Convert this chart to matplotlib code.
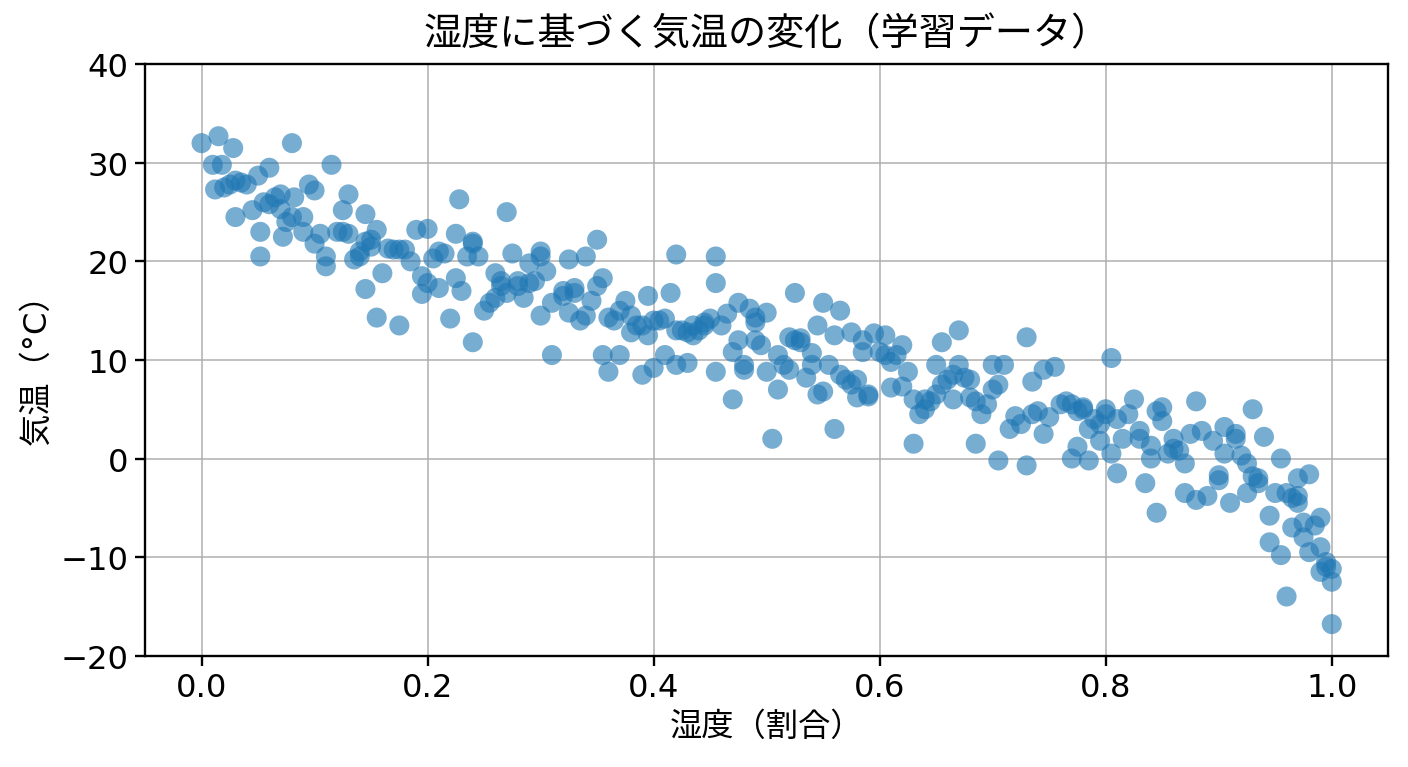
import numpy as np
import matplotlib
matplotlib.use("Agg")
import matplotlib.pyplot as plt

# digits in DejaVu, Japanese falls through to Noto CJK
plt.rcParams['font.family'] = ['DejaVu Sans', 'Noto Sans CJK JP']

# ------------------------------------------------
# DATA
# ------------------------------------------------
humidity = [
    0.000, 0.015, 0.010, 0.018, 0.012, 0.025, 0.030, 0.028, 0.020, 0.035,
    0.040, 0.030, 0.045, 0.050, 0.055, 0.060, 0.052, 0.052, 0.060, 0.065,
    0.070, 0.070, 0.072, 0.075, 0.080, 0.082, 0.080, 0.090, 0.090, 0.095,
    0.100, 0.100, 0.105, 0.110, 0.110, 0.115, 0.120, 0.125, 0.125, 0.130,
    0.130, 0.135, 0.140, 0.140, 0.145, 0.145, 0.150, 0.155, 0.150, 0.145,
    0.155, 0.160, 0.165, 0.170, 0.175, 0.180, 0.175, 0.185, 0.190, 0.195,
    0.195, 0.200, 0.200, 0.205, 0.210, 0.210, 0.215, 0.220, 0.225, 0.225,
    0.228, 0.230, 0.235, 0.240, 0.240, 0.240, 0.245, 0.250, 0.255, 0.260,
    0.260, 0.265, 0.265, 0.270, 0.270, 0.275, 0.280, 0.280, 0.285, 0.290,
    0.290, 0.295, 0.300, 0.300, 0.300, 0.305, 0.310, 0.310, 0.320, 0.320,
    0.325, 0.325, 0.330, 0.330, 0.335, 0.340, 0.340, 0.345, 0.350, 0.350,
    0.355, 0.355, 0.360, 0.360, 0.365, 0.370, 0.370, 0.375, 0.380, 0.380,
    0.385, 0.390, 0.390, 0.395, 0.395, 0.400, 0.400, 0.405, 0.410, 0.410,
    0.415, 0.420, 0.420, 0.420, 0.425, 0.430, 0.430, 0.435, 0.435, 0.440,
    0.445, 0.445, 0.450, 0.455, 0.455, 0.455, 0.460, 0.465, 0.470, 0.470,
    0.475, 0.475, 0.480, 0.480, 0.485, 0.490, 0.490, 0.490, 0.495, 0.500,
    0.500, 0.505, 0.510, 0.510, 0.515, 0.520, 0.520, 0.525, 0.525, 0.530,
    0.530, 0.535, 0.540, 0.540, 0.545, 0.545, 0.550, 0.550, 0.555, 0.560,
    0.560, 0.565, 0.565, 0.570, 0.575, 0.575, 0.580, 0.580, 0.585, 0.585,
    0.590, 0.590, 0.595, 0.600, 0.605, 0.605, 0.610, 0.610, 0.615, 0.620,
    0.620, 0.625, 0.630, 0.630, 0.635, 0.640, 0.640, 0.645, 0.650, 0.650,
    0.655, 0.655, 0.660, 0.665, 0.665, 0.670, 0.670, 0.675, 0.680, 0.680,
    0.685, 0.685, 0.690, 0.695, 0.700, 0.700, 0.705, 0.705, 0.710, 0.715,
    0.720, 0.725, 0.730, 0.730, 0.735, 0.735, 0.740, 0.745, 0.745, 0.750,
    0.755, 0.760, 0.765, 0.770, 0.770, 0.775, 0.775, 0.780, 0.780, 0.785,
    0.785, 0.790, 0.795, 0.795, 0.800, 0.800, 0.805, 0.805, 0.810, 0.810,
    0.815, 0.820, 0.825, 0.830, 0.830, 0.835, 0.840, 0.840, 0.845, 0.845,
    0.850, 0.850, 0.855, 0.860, 0.860, 0.865, 0.870, 0.870, 0.875, 0.880,
    0.880, 0.885, 0.890, 0.895, 0.900, 0.900, 0.905, 0.905, 0.910, 0.915,
    0.915, 0.920, 0.925, 0.925, 0.930, 0.930, 0.935, 0.935, 0.940, 0.945,
    0.945, 0.950, 0.955, 0.955, 0.960, 0.960, 0.965, 0.965, 0.970, 0.970,
    0.970, 0.975, 0.975, 0.980, 0.980, 0.985, 0.990, 0.990, 0.990, 0.995,
    0.995, 1.000, 1.000, 1.000,
]

temperature = [
    32.0, 32.7, 29.8, 29.8, 27.3, 27.8, 28.2, 31.5, 27.5, 28.0,
    27.8, 24.5, 25.2, 28.7, 26.0, 29.5, 23.0, 20.5, 25.8, 26.5,
    26.8, 25.3, 22.5, 24.0, 24.5, 26.5, 32.0, 24.5, 23.0, 27.8,
    21.8, 27.2, 22.8, 20.5, 19.5, 29.8, 23.0, 25.2, 23.0, 22.8,
    26.8, 20.2, 21.0, 20.5, 24.8, 22.0, 21.5, 23.2, 22.2, 17.2,
    14.3, 18.8, 21.3, 21.2, 21.2, 21.2, 13.5, 20.0, 23.2, 18.5,
    16.7, 17.8, 23.3, 20.3, 21.0, 17.3, 20.8, 14.2, 22.8, 18.3,
    26.3, 17.0, 20.5, 21.8, 22.0, 11.8, 20.5, 15.0, 15.8, 18.8,
    16.3, 17.5, 18.0, 16.8, 25.0, 20.8, 18.0, 17.5, 16.3, 19.8,
    17.8, 18.0, 20.5, 21.0, 14.5, 19.0, 10.5, 15.8, 16.5, 17.0,
    14.8, 20.2, 16.8, 17.3, 14.0, 14.5, 20.5, 16.0, 22.2, 17.5,
    18.3, 10.5, 8.8, 14.3, 14.0, 10.5, 15.0, 16.0, 12.8, 14.5,
    13.5, 8.5, 13.5, 12.5, 16.5, 14.0, 9.2, 14.0, 10.5, 14.2,
    16.8, 13.0, 20.7, 9.5, 13.0, 12.8, 9.7, 12.5, 13.5, 13.0,
    13.8, 13.5, 14.2, 20.5, 17.8, 8.8, 13.5, 14.7, 6.0, 10.8,
    12.0, 15.8, 9.5, 9.0, 15.2, 14.3, 13.8, 12.0, 11.5, 14.8,
    8.8, 2.0, 10.5, 7.0, 9.5, 9.0, 12.3, 16.8, 12.0, 11.8,
    12.2, 8.2, 10.7, 9.5, 13.5, 6.5, 6.8, 15.8, 9.5, 3.0,
    12.5, 8.5, 15.0, 8.0, 7.5, 12.8, 6.2, 8.0, 10.8, 12.0,
    6.5, 6.3, 12.7, 10.8, 10.5, 12.5, 7.2, 9.8, 10.5, 7.3,
    11.5, 8.8, 1.5, 6.0, 4.5, 6.0, 5.0, 5.8, 6.5, 9.5,
    7.5, 11.8, 8.0, 8.5, 6.0, 9.5, 13.0, 8.2, 8.0, 6.2,
    1.5, 5.8, 4.5, 5.5, 9.5, 7.0, -0.2, 7.5, 9.5, 3.0,
    4.3, 3.5, -0.7, 12.3, 7.8, 4.5, 4.8, 9.0, 2.5, 4.2,
    9.3, 5.5, 5.8, 5.5, 0.0, 4.8, 1.2, 5.0, 5.2, -0.2,
    3.0, 4.0, 1.8, 3.5, 4.5, 5.0, 10.2, 0.5, -1.5, 4.0,
    2.0, 4.5, 6.0, 2.8, 2.0, -2.5, 1.3, 0.0, 4.8, -5.5,
    5.2, 3.8, 0.5, 1.0, 2.0, 0.8, -0.5, -3.5, 2.5, 5.8,
    -4.2, 2.8, -3.8, 1.8, -2.2, -1.7, 0.5, 3.2, -4.5, 2.5,
    2.0, 0.3, -3.5, -0.5, -1.8, 5.0, -2.5, -2.0, 2.2, -5.8,
    -8.5, -3.5, 0.0, -9.8, -3.5, -14.0, -7.0, -4.0, -2.0, -3.8,
    -4.5, -6.5, -8.0, -1.6, -9.5, -6.8, -6.0, -9.0, -11.5, -10.5,
    -11.0, -11.2, -12.5, -16.8,
]

X_TICKS = [0.0, 0.2, 0.4, 0.6, 0.8, 1.0]
Y_TICKS = [-20, -10, 0, 10, 20, 30, 40]


# ------------------------------------------------
# PLOT
# ------------------------------------------------
fig, ax = plt.subplots(figsize=(10, 5.4545), dpi=140.8)
fig.subplots_adjust(left=0.103, right=0.986, top=0.915, bottom=0.145)

ax.scatter(humidity, temperature, s=105, alpha=0.6, color="C0", edgecolors="none")

ax.set_xlim(-0.05, 1.05)
ax.set_ylim(-20, 40)
ax.set_xticks(X_TICKS)
ax.set_yticks(Y_TICKS)
ax.tick_params(labelsize=16.5, length=5, width=1.2)

for spine in ax.spines.values():
    spine.set_linewidth(1.2)

ax.grid(True)
ax.set_axisbelow(True)

ax.set_title("湿度に基づく気温の変化（学習データ）", fontsize=19.5, pad=10)
ax.set_xlabel("湿度（割合）", fontsize=16.5)
ax.set_ylabel("気温（°C）", fontsize=16.5)

fig.savefig("out.png", dpi=140.8)
